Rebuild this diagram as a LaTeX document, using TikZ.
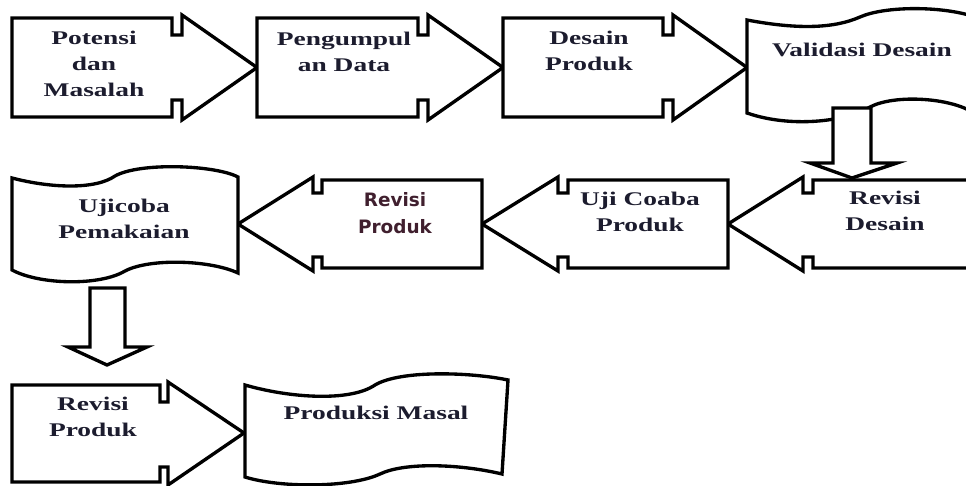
\documentclass[tikz,border=0pt]{standalone}
\usepackage{fontspec}
\setmainfont{Liberation Serif}
\newfontfamily\widefont{Liberation Serif}[FakeStretch=1.42]
\newfontfamily\verdfont{DejaVu Sans}
\usepackage{tikz}
\definecolor{ink}{rgb}{0.11,0.11,0.18}
\definecolor{plum}{rgb}{0.25,0.12,0.18}
\tikzstyle{txt}=[align=center, text=ink, inner sep=0pt, font=\widefont\bfseries\fontsize{11}{14.7}\selectfont]
\tikzstyle{sanstxt}=[txt, text=plum, font=\verdfont\bfseries\fontsize{10.5}{15.5}\selectfont]
\tikzstyle{blockline}=[draw=black, fill=white, line width=1.9pt]
\pgfdeclarelayer{edgelayer}
\pgfdeclarelayer{nodelayer}
\pgfsetlayers{edgelayer,nodelayer,main}

\begin{document}
\begin{tikzpicture}[x=0.02cm, y=-0.02cm]
            \useasboundingbox (0,0) rectangle (966,486);
            \begin{pgfonlayer}{nodelayer}
                \node [style=txt] (potensi) at (94, 64) {Potensi\\dan\\Masalah};
                \node [style=txt] (kumpul) at (344, 52) {Pengumpul\\an Data};
                \node [style=txt] (desain) at (589, 51) {Desain\\Produk};
                \node [style=txt] (validasi) at (862, 50) {Validasi Desain};

                \node [style=txt] (revdesain) at (885, 211) {Revisi\\Desain};
                \node [style=txt] (ujicoba) at (640, 212) {Uji Coaba\\Produk};
                \node [style=sanstxt] (revproduk) at (395, 213) {Revisi\\Produk};
                \node [style=txt] (pemakaian) at (124, 219) {Ujicoba\\Pemakaian};

                \node [style=txt] (revproduk2) at (93, 417) {Revisi\\Produk};
                \node [style=txt] (masal) at (376, 413) {Produksi Masal};
            \end{pgfonlayer}
            \begin{pgfonlayer}{edgelayer}
                % baris atas
                \draw [style=blockline] (12,18) -- (172,18) -- (172,35) -- (182,35) -- (182,15) -- (257,67.5)
                    -- (182,120) -- (182,100) -- (172,100) -- (172,117) -- (12,117) -- cycle;
                \draw [style=blockline] (257,18) -- (418,18) -- (418,35) -- (428,35) -- (428,15) -- (503,67.5)
                    -- (428,120) -- (428,100) -- (418,100) -- (418,117) -- (257,117) -- cycle;
                \draw [style=blockline] (503,18) -- (663,18) -- (663,35) -- (673,35) -- (673,15) -- (747,67.5)
                    -- (673,120) -- (673,100) -- (663,100) -- (663,117) -- (503,117) -- cycle;

                % baris tengah
                \draw [style=blockline] (990,180) -- (813,180) -- (813,193) -- (803,193) -- (803,177) -- (728,224)
                    -- (803,271) -- (803,257) -- (813,257) -- (813,268) -- (990,268) -- cycle;
                \draw [style=blockline] (728,180) -- (568,180) -- (568,193) -- (558,193) -- (558,177) -- (482,224)
                    -- (558,271) -- (558,257) -- (568,257) -- (568,268) -- (728,268) -- cycle;
                \draw [style=blockline] (482,180) -- (322,180) -- (322,193) -- (313,193) -- (313,177) -- (238,224)
                    -- (313,271) -- (313,257) -- (322,257) -- (322,268) -- (482,268) -- cycle;

                % pita
                \draw [style=blockline] (747,20) .. controls (800,30) and (835,28) .. (860,17)
                    .. controls (885,6) and (940,6) .. (972,16) -- (972,112)
                    .. controls (950,98) and (895,94) .. (870,107)
                    .. controls (845,122) and (790,128) .. (747,113) -- cycle;
                \draw [style=blockline] (12,178) .. controls (50,188) and (95,190) .. (115,176)
                    .. controls (140,162) and (215,165) .. (238,177) -- (238,273)
                    .. controls (210,260) and (150,258) .. (125,271)
                    .. controls (100,286) and (40,285) .. (12,270) -- cycle;

                % panah turun
                \draw [style=blockline] (833,108) -- (871,108) -- (871,163) -- (897,163) -- (852,178)
                    -- (810,163) -- (833,163) -- cycle;
                \draw [style=blockline] (90,288) -- (125,288) -- (125,347) -- (147,347) -- (107,365)
                    -- (68,347) -- (90,347) -- cycle;

                % baris bawah
                \draw [style=blockline] (12,385) -- (160,385) -- (160,402) -- (168,402) -- (168,382) -- (244,433)
                    -- (168,485) -- (168,467) -- (160,467) -- (160,482) -- (12,482) -- cycle;
                \draw [style=blockline] (245,385) .. controls (290,398) and (350,402) .. (375,385)
                    .. controls (400,370) and (470,372) .. (508,380) -- (502,474)
                    .. controls (460,464) and (405,462) .. (380,474)
                    .. controls (350,488) and (280,488) .. (245,477) -- cycle;
            \end{pgfonlayer}
        \end{tikzpicture}
\end{document}
